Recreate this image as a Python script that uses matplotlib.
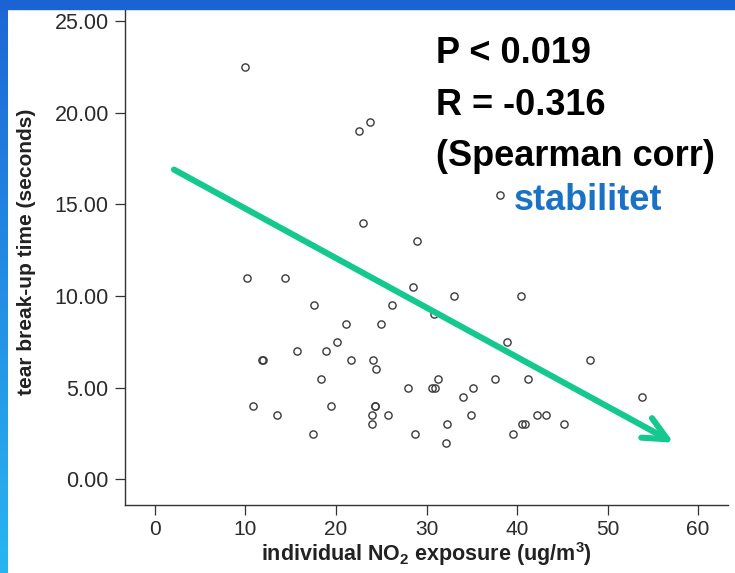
"""
Tear break-up time vs individual NO2 exposure, scatter with trend arrow.
"""
import matplotlib
matplotlib.use("Agg")
import matplotlib.pyplot as plt
import numpy as np
from matplotlib.colors import LinearSegmentedColormap
from matplotlib.patches import Rectangle

plt.rcParams["font.family"] = ["Liberation Sans", "DejaVu Sans"]
plt.rcParams["mathtext.fontset"] = "custom"
plt.rcParams["mathtext.rm"] = "Liberation Sans"
plt.rcParams["mathtext.bf"] = "Liberation Sans:bold"

# --- data ---
no2 = [10.0, 22.5, 23.8, 38.1, 23.0, 29.0, 10.2, 14.4, 17.6, 15.7,
       11.8, 11.9, 18.3, 10.8, 13.5, 17.5, 28.5, 33.0, 40.4, 26.2,
       30.8, 21.1, 25.0, 20.1, 18.9, 21.7, 24.1, 24.4, 28.0, 30.6,
       30.9, 31.3, 35.1, 37.6, 34.0, 19.4, 24.3, 24.3, 24.0, 25.7,
       24.0, 34.9, 32.3, 28.7, 32.2, 39.5, 38.9, 48.1, 41.2, 53.8,
       42.2, 43.2, 40.5, 40.9, 45.2]
tbut = [22.5, 19.0, 19.5, 15.5, 14.0, 13.0, 11.0, 11.0, 9.5, 7.0,
        6.5, 6.5, 5.5, 4.0, 3.5, 2.5, 10.5, 10.0, 10.0, 9.5,
        9.0, 8.5, 8.5, 7.5, 7.0, 6.5, 6.5, 6.0, 5.0, 5.0,
        5.0, 5.5, 5.0, 5.5, 4.5, 4.0, 4.0, 4.0, 3.5, 3.5,
        3.0, 3.5, 3.0, 2.5, 2.0, 2.5, 7.5, 6.5, 5.5, 4.5,
        3.5, 3.5, 3.0, 3.0, 3.0]

x_ticks = [0, 10, 20, 30, 40, 50, 60]
y_ticks = [0, 5, 10, 15, 20, 25]

trend_start = (2.1, 16.9)
trend_end = (57.3, 2.0)

stats_lines = ["P < 0.019", "R = -0.316", "(Spearman corr)"]
tag = "stabilitet"

W, H = 735, 573
fig = plt.figure(figsize=(W / 100, H / 100), dpi=100)
fig.patch.set_facecolor("white")

# blue slide frame: bar on top, gradient strip on the left
fig.patches.append(Rectangle((0, 1 - 9 / H), 1, 9 / H, transform=fig.transFigure,
                             color="#1b62d2", zorder=0))
gax = fig.add_axes([0, 0, 7 / W, 1 - 9 / H])
cmap = LinearSegmentedColormap.from_list("frame", ["#1d68d6", "#2ab4f2"])
gax.imshow(np.linspace(0, 1, 256)[:, None], aspect="auto", cmap=cmap)
gax.axis("off")

ax = fig.add_axes([125 / W, 68 / H, 603 / W, 496 / H])
ax.plot(no2, tbut, ls="none", marker="o", mfc="none", mec="#3a3a3a",
        ms=5.2, mew=1.0, zorder=3)

ax.annotate("", xy=trend_end, xytext=trend_start,
            arrowprops=dict(arrowstyle="->,head_length=1.7,head_width=0.8",
                            mutation_scale=10, lw=4.4, color="#14c98e",
                            shrinkA=0, shrinkB=0, capstyle="round",
                            joinstyle="round"),
            zorder=4)

ax.set_xlim(-3.31, 63.3)
ax.set_ylim(-1.40, 25.66)
ax.set_xticks(x_ticks)
ax.set_yticks(y_ticks)
ax.set_yticklabels([f"{v:.2f}" for v in y_ticks])
ax.tick_params(length=7.2, width=0.9, color="#333333", labelcolor="#2b2b2b")
ax.tick_params(axis="y", labelsize=15.5, pad=4.5)
ax.tick_params(axis="x", labelsize=15, pad=3.5)
for side in ["top", "right"]:
    ax.spines[side].set_visible(False)
for side in ["left", "bottom"]:
    ax.spines[side].set_color("#333333")
    ax.spines[side].set_linewidth(1.0)
ax.set_facecolor("none")

fig.text(27 / W, 1 - 252 / H, "tear break-up time (seconds)", rotation=90,
         ha="center", va="center", fontsize=15, fontweight="bold",
         color="#222222")
fig.text(426 / W, 1 - 561 / H,
         r"individual NO$_\mathbf{2}$ exposure (ug/m$^\mathbf{3}$)",
         ha="center", va="baseline", fontsize=15.5, fontweight="bold",
         color="#222222")

baselines = [63.3, 115, 165.7]
for line, yb in zip(stats_lines, baselines):
    fig.text(436 / W, 1 - yb / H, line, ha="left", va="baseline",
             fontsize=26, fontweight="bold", color="black")
fig.text(514 / W, 1 - 210 / H, tag, ha="left", va="baseline",
         fontsize=26, fontweight="bold", color="#1a72c6")

fig.savefig("out.png", dpi=100)
